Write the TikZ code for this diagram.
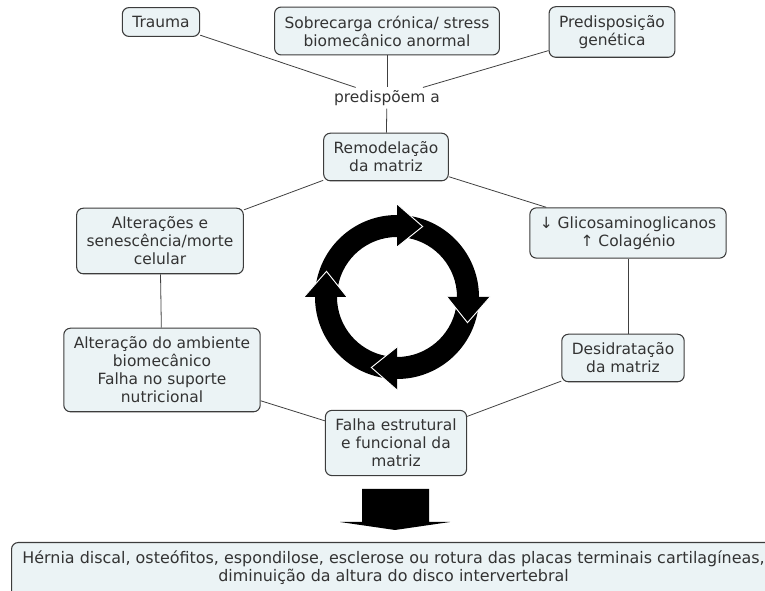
\documentclass[tikz,border=0pt]{standalone}
\usepackage{fontspec}
\setmainfont{DejaVu Sans}
\usetikzlibrary{calc}
\definecolor{boxfill}{HTML}{EBF3F5}
\definecolor{boxline}{HTML}{3C3C3C}
\definecolor{txtgray}{HTML}{333333}
\tikzset{
  concept/.style={draw=boxline,fill=boxfill,rounded corners=5pt,align=center,
    text=txtgray,inner xsep=7.5pt,inner ysep=6.5pt,line width=0.8pt,
    font=\fontsize{11.6}{13.5}\selectfont},
  linkword/.style={text=txtgray,inner sep=2pt,font=\fontsize{11.6}{13.5}\selectfont},
  link/.style={draw=black!75,line width=0.6pt}
}
% one shaft of the cycle ring, #1 = angle where its head starts
\newcommand{\ringshaft}[1]{
  \fill (ring) ++(#1+80:82) arc[start angle=#1+80,end angle=#1,radius=82]
    -- ([shift={(#1:60)}]ring) arc[start angle=#1,end angle=#1+80,radius=60] -- cycle;
}
% the head, with a white edge where it lies on the next shaft
\newcommand{\ringhead}[1]{
  \fill ([shift={(#1:50)}]ring) -- ([shift={(#1:93)}]ring) -- ([shift={(#1-20:75)}]ring) -- cycle;
  \draw[white,line width=0.7pt] ([shift={(#1:93)}]ring) -- ([shift={(#1-20:75)}]ring)
    -- ([shift={(#1:50)}]ring);
}

\begin{document}
\begin{tikzpicture}[x=0.75pt,y=0.75pt]
  \useasboundingbox (0,0) rectangle (765,-591);
  \clip (0,0) rectangle (765,-591);

  % causes
  \node[concept] (trauma) at (161,-22) {Trauma};
  \node[concept] (sobrecarga) at (387,-31) {Sobrecarga crónica/ stress\\biomecânico anormal};
  \node[concept] (genetica) at (612,-32) {Predisposição\\genética};
  \node[linkword] (predispoem) at (387,-98) {predispõem a};

  % the cycle
  \node[concept] (remodelacao) at (386,-157) {Remodelação\\da matriz};
  \node[concept] (senescencia) at (160,-241) {Alterações e\\senescência/morte\\celular};
  \node[concept] (glicos) at (628,-233) {↓ Glicosaminoglicanos\\↑ Colagénio};
  \node[concept] (ambiente) at (162,-370) {Alteração do ambiente\\biomecânico\\Falha no suporte\\nutricional};
  \node[concept] (desidratacao) at (623,-358) {Desidratação\\da matriz};
  \node[concept] (falha) at (396,-443) {Falha estrutural\\e funcional da\\matriz};

  % result
  \node[concept,minimum width=573pt,text depth=24pt,anchor=north west,
    font=\fontsize{11.95}{13.5}\selectfont] (resultado) at (11,-542)
    {Hérnia discal, osteófitos, espondilose, esclerose ou rotura das placas terminais cartilagíneas,\\diminuição da altura do disco intervertebral};

  \draw[link] (trauma) -- (predispoem);
  \draw[link] (sobrecarga) -- (predispoem);
  \draw[link] (genetica) -- (predispoem);
  \draw[link] (predispoem) -- (remodelacao);
  \draw[link] (remodelacao) -- (senescencia);
  \draw[link] (remodelacao) -- (glicos);
  \draw[link] (senescencia) -- (ambiente);
  \draw[link] (glicos) -- (glicos |- desidratacao.north);
  \draw[link] (ambiente) -- (falha);
  \draw[link] (desidratacao) -- (falha);

  % circular arrows
  \coordinate (ring) at (397,-297);
  \foreach \b in {90,0,-90,180}{\ringshaft{\b}}
  \foreach \b in {90,0,-90,180}{\ringhead{\b}}

  % block arrow to the result
  \coordinate (tip) at (395,-530);
  \fill (tip) -- ++(-55,8) -- ++(22,0) -- ++(0,33) -- ++(67,0) -- ++(0,-33) -- ++(21,0) -- cycle;
\end{tikzpicture}
\end{document}
